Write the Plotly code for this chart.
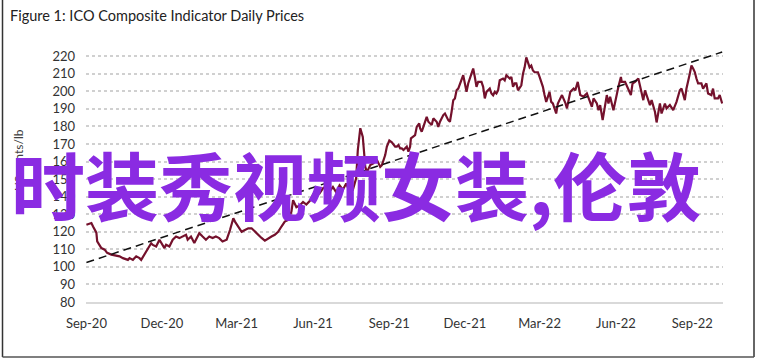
import plotly.graph_objects as go
import pandas as pd

# ---------------- data ----------------
start_date = "2020-09-01"
day_offsets = [
    0, 6, 8, 12, 13, 18, 22, 25, 30, 36, 40, 44, 50, 52, 56, 60, 64, 66, 70, 74,
    78, 80, 84, 88, 90, 94, 96, 100, 104, 108, 112, 116, 120, 122, 126, 130, 134, 136, 140, 144,
    148, 152, 156, 160, 164, 169, 173, 177, 179, 183, 187, 191, 195, 199, 203, 207, 211, 215, 219, 223,
    227, 231, 235, 239, 243, 247, 249, 253, 257, 261, 265, 269, 273, 277, 281, 285, 289, 293, 297, 301,
    305, 309, 313, 317, 321, 325, 327, 330, 333, 334, 336, 338, 340, 342, 346, 348, 350, 352, 354, 356,
    358, 360, 362, 365, 368, 372, 374, 376, 378, 380, 382, 386, 388, 390, 391, 394, 396, 398, 401, 402,
    404, 406, 410, 412, 414, 416, 418, 422, 424, 426, 430, 432, 436, 438, 440, 442, 444, 446, 448, 450,
    454, 456, 458, 460, 464, 466, 468, 470, 472, 476, 478, 480, 482, 486, 488, 490, 492, 494, 496, 498,
    502, 504, 506, 510, 512, 514, 516, 518, 520, 524, 526, 528, 530, 532, 534, 536, 538, 540, 544, 546,
    550, 552, 554, 558, 560, 562, 566, 568, 573, 577, 579, 583, 587, 589, 592, 595, 599, 603, 607, 609,
    611, 615, 617, 619, 622, 625, 627, 629, 631, 635, 639, 641, 644, 645, 649, 653, 656, 658, 661, 665,
    667, 669, 671, 673, 676, 679, 681, 685, 687, 691, 693, 697, 699, 703, 707, 711, 715, 717, 721, 723,
    727, 729, 731, 733, 735, 737, 741, 743, 747, 749, 753, 755, 757, 761, 763, 766,
]
prices = [
    124, 125, 123, 119.5, 114.5, 110.7, 109.8, 108, 107, 106.5, 106, 105, 104, 105, 104, 106, 105, 104, 107, 110,
    113.5, 112.5, 111.6, 115.5, 113.6, 110.7, 112.6, 111.6, 115.5, 117.3, 116.4, 117.3, 118.3, 115.5, 117.3, 113.6, 117.3, 119.2, 117.3, 115.5,
    117.3, 116.4, 117.3, 116.4, 114.5, 115.5, 121, 127.7, 125.8, 123, 120, 121, 122, 122, 120, 118.5, 116.5, 115, 116.4, 117.3,
    118.3, 120, 123, 125.8, 126.8, 131.5, 138, 134, 135, 137, 135.5, 137.5, 141, 144, 142, 144.8, 146, 143, 145.5, 142.5,
    146.5, 144, 147.5, 143, 143.8, 150.5, 166.5, 179, 174, 166.6, 157, 154, 156, 158, 159, 161.8, 161, 159, 157, 158,
    161, 163.7, 168.5, 172, 171, 168.5, 168.5, 169.4, 167.5, 167.5, 166.6, 168.5, 165.6, 168.5, 173.2, 174.1, 175, 179.8, 181.8, 179,
    177, 179.8, 185.5, 182.7, 181.8, 180.8, 184.6, 182.7, 179.8, 182.7, 186.5, 187.4, 183.6, 182.7, 188.4, 195, 196, 200.6, 201.6, 204.5,
    209.2, 204.5, 199.7, 204.5, 211, 213, 208.2, 202.6, 205.4, 205.4, 202.6, 196, 199.7, 201.6, 198.8, 197.8, 199.7, 198.8, 200.6, 206.3,
    207.3, 206.3, 209.2, 207.3, 208.2, 202.6, 204.5, 204.5, 200.6, 203.5, 210, 213.7, 219.4, 216.6, 213.7, 214.7, 211.9, 210.9, 210.9, 208.2,
    202.6, 197.9, 194, 199.7, 194, 193.1, 187.4, 193.1, 197.9, 193.5, 190.3, 199.7, 201.6, 200.6, 205.4, 197.9, 197, 198.8, 194, 191.2,
    196, 193.1, 189.3, 192.2, 183.6, 194, 197.9, 193.1, 197, 189.3, 199.7, 202.6, 208.2, 205.4, 205.4, 200.6, 197.9, 204.5, 205.4, 207.3,
    203.5, 198.8, 195, 200.6, 196, 192.2, 195, 188.4, 182.3, 193.1, 187.4, 193.1, 190.3, 192.2, 189.3, 194, 200.6, 201.6, 195, 201.6,
    210, 214.7, 213, 211, 207.3, 204.5, 204.5, 201.6, 204.5, 198.8, 197.9, 201.6, 196, 196, 197.9, 193.1,
]
trend_days = [0, 766]
trend_values = [102.5, 222.4]

y_ticks = [80, 90, 100, 110, 120, 130, 140, 150, 160, 170, 180, 190, 200, 210, 220]
x_tick_dates = ["2020-09-01", "2020-12-01", "2021-03-01", "2021-06-01", "2021-09-01",
                "2021-12-01", "2022-03-01", "2022-06-01", "2022-09-01"]
x_tick_labels = ["Sep-20", "Dec-20", "Mar-21", "Jun-21", "Sep-21",
                 "Dec-21", "Mar-22", "Jun-22", "Sep-22"]

title_text = "Figure 1: ICO Composite Indicator Daily Prices"
y_title = "US cents/lb"
overlay_text = "时装秀视频女装,伦敦"

# ---------------- build ----------------
start = pd.Timestamp(start_date)
dates = start + pd.to_timedelta(day_offsets, unit="D")
trend_dates = start + pd.to_timedelta(trend_days, unit="D")

W, H = 758, 363
ML, MR, MT, MB = 86, 35, 51, 61
PW, PH = W - ML - MR, H - MT - MB


def px_x(px):
    return (px - ML) / PW


def px_y(py):
    return (H - MB - py) / PH


fig = go.Figure()
fig.add_trace(go.Scatter(
    x=dates, y=prices, mode="lines",
    line=dict(color="#74112C", width=2.2),
    showlegend=False, hoverinfo="skip",
))
fig.add_trace(go.Scatter(
    x=trend_dates, y=trend_values, mode="lines",
    line=dict(color="#111111", width=1.5, dash="8px,5px"),
    showlegend=False, hoverinfo="skip",
))

tick_font = dict(family="Lato, Open Sans, sans-serif", size=13, color="#333333")

fig.update_layout(
    width=W, height=H,
    margin=dict(l=ML, r=MR, t=MT, b=MB, pad=0),
    paper_bgcolor="white", plot_bgcolor="white",
    xaxis=dict(
        type="date",
        range=[start - pd.Timedelta(hours=12), start + pd.Timedelta(days=767)],
        tickvals=list(pd.to_datetime(x_tick_dates)),
        ticktext=x_tick_labels,
        showgrid=False, zeroline=False,
        showline=True, linecolor="#D9D9D9", linewidth=2,
        ticks="", tickfont=tick_font, ticklabelstandoff=8,
    ),
    yaxis=dict(
        range=[80, 223],
        tickvals=y_ticks,
        showgrid=True, gridcolor="#D0D0D0", gridwidth=2, griddash="dot",
        zeroline=False, showline=False,
        ticks="", tickfont=tick_font, ticklabelstandoff=10,
    ),
    annotations=[
        dict(text=title_text, xref="paper", yref="paper",
             x=px_x(8), y=px_y(16), xanchor="left", yanchor="middle",
             showarrow=False,
             font=dict(family="Lato, Open Sans, sans-serif", size=14.5, color="#222222")),
        dict(text=y_title, xref="paper", yref="paper",
             x=px_x(18), y=px_y(160), xanchor="center", yanchor="middle",
             textangle=-90, showarrow=False,
             font=dict(family="Lato, Open Sans, sans-serif", size=12, color="#404040")),
        dict(text=overlay_text, xref="paper", yref="paper",
             x=px_x(356), y=px_y(182), xanchor="center", yanchor="middle",
             showarrow=False,
             font=dict(family="Noto Sans CJK SC", size=74, color="#8A2BE2", weight="bold")),
    ],
    shapes=[
        dict(type="line", xref="paper", yref="paper",
             x0=px_x(2.5), x1=px_x(2.5), y0=px_y(0), y1=px_y(357),
             line=dict(color="#333333", width=1.5)),
        dict(type="line", xref="paper", yref="paper",
             x0=px_x(754), x1=px_x(754), y0=px_y(0), y1=px_y(357),
             line=dict(color="#333333", width=1.5)),
        dict(type="line", xref="paper", yref="paper",
             x0=px_x(2.5), x1=px_x(754), y0=px_y(357), y1=px_y(357),
             line=dict(color="#555555", width=1.5)),
    ],
)

fig.write_html(
    "out.html",
    config={"displayModeBar": False},
    post_script="document.body.style.margin='0';document.body.style.padding='0';",
)
